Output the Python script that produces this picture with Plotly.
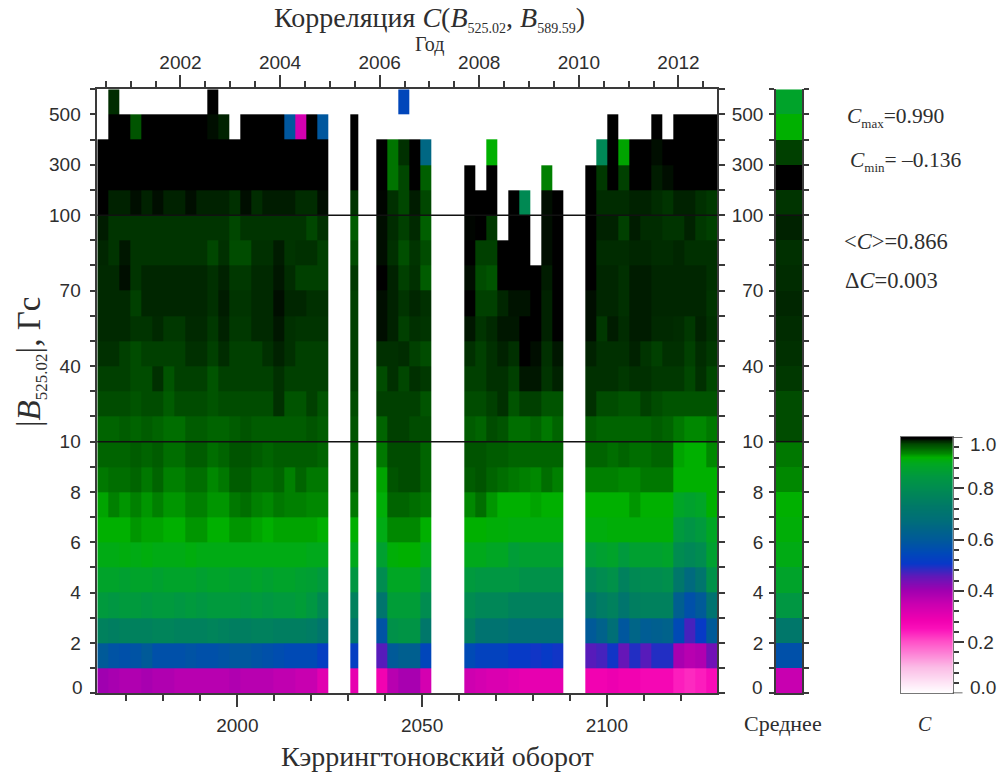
import numpy as np
import plotly.graph_objects as go

# ---------- data ----------
row_labels = ["2", "4", "6", "8", "10", "40", "70", "100", "300", "500"]
row_label_pos = [2, 4, 6, 8, 10, 13, 16, 19, 21, 23]
cr_ticks = [2000, 2050, 2100]
cr_minor = [1970, 1980, 1990, 2010, 2020, 2030, 2040, 2060, 2070, 2080, 2090, 2110, 2120, 2130]
year_ticks = [2002, 2004, 2006, 2008, 2010, 2012]
year_minor = [2000.5, 2001, 2001.5, 2002.5, 2003, 2003.5, 2004.5, 2005, 2005.5, 2006.5, 2007, 2007.5,
              2008.5, 2009, 2009.5, 2010.5, 2011, 2011.5, 2012.5]
N = None
# observed blocks of columns (Carrington rotation of first edge, number of columns, column width)
block_start = [1962.1, 2030.68, 2037.6, 2061.53, 2094.17]
block_ncols = [21, 1, 5, 9, 12]
block_width = [2.977, 2.06, 2.977, 2.977, 2.977]

row_00 = [.40,.39,.38,.38,.39,.38,.38,.37,.37,.37,.37,.37,.38,.37,.37,.37,.36,.36,.35,.35,.31, .30, .28,.37,.39,.39,.33, .34,.33,.32,.32,.31,.30,.30,.30,.30, .28,.28,.29,.28,.28,.27,.27,.27,.24,.23,.24,.26]
row_01 = [.60,.58,.57,.58,.60,.57,.57,.57,.58,.57,.57,.58,.59,.59,.58,.57,.56,.55,.55,.55,.52, .52, .46,.60,.62,.62,.54, .55,.53,.53,.53,.51,.51,.50,.51,.50, .46,.47,.50,.45,.49,.46,.49,.49,.39,.37,.38,.44]
row_02 = [.76,.75,.76,.76,.76,.77,.77,.76,.76,.76,.77,.76,.75,.75,.76,.76,.75,.75,.75,.74,.71, .71, .58,.82,.83,.83,.72, .75,.70,.70,.70,.68,.68,.68,.68,.68, .60,.63,.68,.59,.64,.61,.62,.63,.55,.47,.51,.60]
row_03 = [.85,.84,.85,.85,.84,.85,.85,.84,.85,.84,.85,.85,.85,.84,.85,.84,.85,.85,.86,.84,.79, .76, .71,.86,.86,.86,.80, .80,.78,.78,.78,.76,.76,.76,.76,.76, .71,.74,.76,.71,.75,.76,.76,.76,.62,.57,.60,.70]
row_04 = [.88,.88,.87,.88,.88,.87,.88,.88,.88,.87,.88,.88,.87,.87,.88,.87,.88,.88,.87,.865,.85, .84, .80,.89,.89,.89,.85, .85,.84,.84,.84,.84,.82,.82,.82,.82, .78,.80,.82,.76,.79,.80,.80,.81,.72,.66,.71,.82]
row_05 = [.905,.905,.91,.905,.91,.905,.905,.905,.91,.905,.905,.905,.905,.905,.905,.905,.905,.905,.905,.90,.90, .90, .87,.915,.92,.92,.90, .90,.90,.89,.89,.86,.87,.87,.87,.87, .86,.87,.88,.85,.87,.87,.87,.88,.80,.78,.80,.87]
row_06 = [.92,.92,.92,.93,.925,.925,.92,.92,.93,.93,.92,.92,.93,.93,.925,.92,.925,.925,.925,.925,.92, .92, .905,.935,.935,.935,.92, .92,.92,.915,.915,.91,.91,.91,.91,.91, .91,.91,.915,.915,.915,.915,.915,.915,.85,.83,.85,.89]
row_07 = [.925,.94,.93,.94,.93,.94,.93,.93,.94,.94,.93,.93,.945,.95,.94,.935,.945,.94,.94,.935,.935, .945, .915,.955,.955,.95,.945, .935,.95,.93,.92,.92,.92,.925,.92,.92, .92,.92,.92,.92,.93,.92,.92,.92,.885,.875,.885,.92]
row_08 = [.945,.95,.95,.955,.945,.955,.94,.94,.95,.95,.935,.945,.96,.96,.95,.95,.955,.94,.955,.945,.945, .96, .925,.965,.97,.97,.955, .96,.965,.955,.95,.945,.94,.935,.95,.94, .94,.94,.94,.935,.935,.945,.945,.945,.92,.92,.92,.92]
row_09 = [.955,.955,.955,.96,.955,.96,.95,.95,.96,.96,.95,.955,.965,.965,.96,.955,.96,.96,.96,.96,.955, .96, .945,.97,.97,.97,.955, .965,.965,.96,.96,.955,.955,.955,.955,.955, .955,.955,.95,.955,.95,.95,.955,.955,.925,.92,.92,.935]
row_10 = [.955,.955,.96,.955,.96,.955,.95,.95,.96,.96,.955,.955,.96,.965,.96,.96,.96,.96,.96,.965,.96, .965, .955,.975,.975,.97,.97, .96,.955,.97,.965,.95,.95,.955,.945,.955, .96,.955,.955,.955,.955,.955,.96,.955,.945,.935,.935,.945]
row_11 = [.97,.97,.97,.965,.97,.97,.96,.97,.97,.97,.965,.97,.97,.97,.97,.97,.98,.965,.965,.975,.965, .97, .975,.975,.975,.975,.965, .97,.97,.975,.98,.965,.975,.975,.965,.965, .98,.97,.97,.965,.965,.975,.97,.965,.965,.965,.965,.965]
row_12 = [.975,.975,.975,.97,.97,.98,.965,.975,.975,.975,.965,.975,.975,.975,.975,.975,.98,.975,.975,.975,.975, .975, .97,.98,.972,.98,.977, .975,.975,.98,.98,.975,.988,.988,.978,.985, .98,.98,.98,.977,.98,.98,.977,.977,.977,.972,.98,.972]
row_13 = [.98,.98,.975,.97,.975,.975,.975,.975,.98,.98,.975,.982,.975,.975,.975,.98,.985,.98,.975,.975,.975, .975, .98,.98,.982,.975,.97, .98,.975,.98,.985,.98,.993,.99,.98,.988, .985,.98,.98,.98,.985,.978,.975,.98,.98,.975,.982,.977]
row_14 = [.983,.983,.983,.978,.978,.983,.977,.977,.983,.983,.977,.985,.977,.977,.983,.983,.988,.98,.978,.978,.978, .975, .99,.985,.975,.98,.978, .988,.978,.983,.988,.988,.995,.993,.985,.995, .99,.977,.987,.982,.987,.987,.983,.983,.982,.977,.985,.98]
row_15 = [.983,.983,.983,.975,.984,.984,.984,.984,.984,.984,.98,.987,.978,.978,.983,.983,.99,.984,.984,.98,.98, .975, .99,.985,.978,.984,.98, .993,.975,.975,.984,.989,.989,.995,.985,.996, .99,.984,.984,.98,.987,.987,.984,.984,.984,.984,.984,.978]
row_16 = [.983,.983,.99,.978,.984,.984,.984,.984,.984,.984,.98,.985,.977,.977,.983,.983,.988,.982,.975,.975,.975, .977, .994,.985,.975,.98,.96, .99,.97,.965,.995,.995,.995,.995,.987,.997, .993,.984,.984,.98,.987,.987,.984,.984,.984,.984,.984,.98]
row_17 = [.984,.978,.988,.978,.978,.978,.978,.978,.978,.978,.972,.98,.97,.97,.98,.98,.987,.978,.98,.98,.975, .97, .99,.98,.968,.978,.97, .995,.975,.975,.997,.997,.997,N,.99,.997, .997,.982,.982,.982,.984,.984,.982,.982,.984,.98,.98,.98]
row_18 = [.987,.978,.978,.978,.978,.978,.978,.978,.978,.978,.978,.978,.972,.978,.978,.978,.978,.978,.978,.972,.98, .96, .99,.982,.975,.983,.958, .992,.997,.977,N,.997,.997,N,.99,.997, .997,.985,.985,.975,.987,.982,.982,.978,.978,.985,.977,.975]
row_19 = [.997,.985,.985,.99,.985,.99,.985,.985,.99,.985,.985,.985,.98,.99,.982,.987,.987,.987,.982,.982,.99, .978, .992,.98,.972,.987,.972, .997,.997,.997,N,.997,.79,N,.99,.997, .997,.982,.982,.982,.985,.985,.982,.978,.985,.985,.98,.977]
row_20 = [.997]*21 + [.997, .997,.947,.972,.997,.958, .997,N,.997,N,N,N,N,.94,N, .997,.977,.997,.975,.997,.997,.987,.99,.997,.997,.997,.997]
row_21 = [.997]*21 + [.997, .997,.947,.98,.997,.65, N,N,.92,N,N,N,N,N,N, N,.78,.997,.925,.997,.997,.99,.997,.997,.997,.997,.997]
row_22 = [N,.997,.997,.965,.997,.997,.997,.997,.997,.997,.99,.985,N,.997,.997,.997,.997,.59,.33,.997,.59, .997, N,N,N,N,N, N,N,N,N,N,N,N,N,N, N,N,.997,N,N,N,.997,N,.997,.997,.997,.997]
row_23 = [N,.982,N,N,N,N,N,N,N,N,.997,N,N,N,N,N,N,N,N,N,N, N, N,N,.54,N,N, N,N,N,N,N,N,N,N,N, N,N,N,N,N,N,N,N,N,N,N,N]
mean_by_row = [.35,.57,.72,.84,.88,.905,.915,.92,.935,.945,.97,.97,.977,.98,.982,.984,.982,.98,.985,.978,.997,.975,.92,.88]

all_rows = [row_00,row_01,row_02,row_03,row_04,row_05,row_06,row_07,row_08,row_09,row_10,row_11,
            row_12,row_13,row_14,row_15,row_16,row_17,row_18,row_19,row_20,row_21,row_22,row_23]
for r in all_rows:
    assert len(r) == 48, len(r)

colour_stops = [(0, "#ffffff"), (.1, "#fbbce6"), (.2, "#ff50c8"), (.25, "#fb10ba"), (.285, "#f000b0"),
                (.35, "#c800b0"), (.4, "#a000b0"), (.455, "#6018b8"), (.505, "#0838c8"), (.545, "#0048b8"),
                (.6, "#005a98"), (.675, "#006e78"), (.727, "#007868"), (.8, "#008c50"), (.845, "#009840"),
                (.896, "#00a820"), (.92, "#00b000"), (.928, "#009c00"), (.935, "#008800"), (.945, "#007800"),
                (.955, "#006400"), (.96, "#005c00"), (.97, "#004c00"), (.975, "#004000"), (.978, "#003400"),
                (.982, "#002c00"), (.987, "#001c00"), (.993, "#000000"), (1, "#000000")]

# ---------- assembling columns, with gaps where no data exists ----------
edges, keep = [], []
idx = 0
for s, n, w in zip(block_start, block_ncols, block_width):
    if edges:
        keep.append(None)          # gap between blocks
    for i in range(n):
        edges.append(s + i * w)
        keep.append(idx)
        idx += 1
    edges.append(s + n * w)
z = [[(r[k] if k is not None else None) for k in keep] for r in all_rows]
row_edges = list(range(25))

W, H = 1001, 774
xp = lambda p: p / W
yp = lambda p: 1 - p / H
TXT = "#2e2e2e"
AX = "#3a3a3a"
SANS = "Liberation Sans"
SERIF = "Liberation Serif"

fig = go.Figure()
fig.add_trace(go.Heatmap(z=z, x=edges, y=row_edges, colorscale=colour_stops, zmin=0, zmax=1,
                         showscale=False, hoverinfo="skip", xaxis="x", yaxis="y"))
fig.add_trace(go.Scatter(x=year_ticks, y=[None] * len(year_ticks), mode="markers", showlegend=False,
                         xaxis="x2", yaxis="y", hoverinfo="skip"))
fig.add_trace(go.Heatmap(z=[[v] for v in mean_by_row], x=[0, 1], y=row_edges, colorscale=colour_stops,
                         zmin=0, zmax=1, showscale=False, hoverinfo="skip", xaxis="x3", yaxis="y3"))
grad = np.linspace(0, 1, 257)
fig.add_trace(go.Heatmap(z=[[float(v)] for v in (grad[:-1] + grad[1:]) / 2], x=[0, 1], y=grad.tolist(),
                         colorscale=colour_stops, zmin=0, zmax=1, showscale=False, hoverinfo="skip",
                         xaxis="x4", yaxis="y4"))

tick_font = dict(family=SANS, size=19, color=TXT)
line = dict(showline=True, linecolor=AX, linewidth=1.5, tickcolor=AX, tickwidth=1.5, showgrid=False, zeroline=False)
all_row_ticks = [i for i in range(25) if i not in row_label_pos]

fig.update_layout(
    width=W, height=H, margin=dict(l=0, r=0, t=0, b=0), paper_bgcolor="white", plot_bgcolor="white",
    showlegend=False,
    xaxis=dict(domain=[xp(97.3), xp(717.3)], range=[1962.1, 2129.9], tickmode="array", tickvals=cr_ticks,
               ticks="outside", ticklen=12, tickfont=tick_font, anchor="y", side="bottom", ticklabelstandoff=2,
               minor=dict(tickmode="array", tickvals=cr_minor, ticks="outside", ticklen=6, tickcolor=AX, tickwidth=1.5),
               **line),
    xaxis2=dict(domain=[xp(97.3), xp(717.3)], range=[2000.33, 2012.78], tickmode="array", tickvals=year_ticks,
                ticks="outside", ticklen=13, tickfont=tick_font, anchor="y", overlaying="x", side="top",
                ticklabelstandoff=-2,
                minor=dict(tickmode="array", tickvals=year_minor, ticks="outside", ticklen=7, tickcolor=AX, tickwidth=1.5),
                **line),
    yaxis=dict(domain=[yp(693.3), yp(89.3)], range=[0, 24], tickmode="array", tickvals=row_label_pos, ticktext=row_labels,
               ticks="outside", ticklen=6, tickfont=tick_font, anchor="x", mirror="ticks", ticklabelstandoff=5,
               minor=dict(tickmode="array", tickvals=all_row_ticks, ticks="outside", ticklen=6, tickcolor=AX, tickwidth=1.5),
               **line),
    xaxis3=dict(domain=[xp(776), xp(802.3)], range=[0, 1], showticklabels=False, ticks="", anchor="y3", **line),
    yaxis3=dict(domain=[yp(693.3), yp(89.3)], range=[0, 24], tickmode="array", tickvals=row_label_pos, ticktext=row_labels,
                ticks="outside", ticklen=5, tickfont=tick_font, anchor="x3", mirror="ticks", ticklabelstandoff=2,
                minor=dict(tickmode="array", tickvals=all_row_ticks, ticks="outside", ticklen=5, tickcolor=AX, tickwidth=1.5),
                **line),
    xaxis4=dict(domain=[xp(901), xp(952.7)], range=[0, 1], showticklabels=False, ticks="", anchor="y4",
                showline=True, linecolor="#777777", linewidth=1, mirror=True, showgrid=False, zeroline=False),
    yaxis4=dict(domain=[yp(693.3), yp(437)], range=[0, 1], side="right", tickmode="array",
                tickvals=[.2, .4, .6, .8], ticktext=["0.2", "0.4", "0.6", "0.8"],
                ticks="outside", ticklen=10, tickfont=tick_font, anchor="x4", tickcolor=AX, tickwidth=1.5,
                minor=dict(tickmode="array", tickvals=[round(i * .04, 2) for i in range(26) if i % 5],
                           ticks="outside", ticklen=5, tickcolor=AX, tickwidth=1.5),
                showline=True, linecolor="#777777", linewidth=1, mirror=True, showgrid=False, zeroline=False),
)
# the 0.0 and 1.0 ends of the scale bar carry long ticks
for v in (0, 1):
    fig.add_shape(type="line", xref="x4 domain", yref="y4", x0=1, x1=1.19, y0=v, y1=v, line=dict(color=AX, width=1.5))

# horizontal reference lines at |B| = 10 and 100
for rv in (10, 19):
    fig.add_shape(type="line", xref="x domain", yref="y", x0=0, x1=1, y0=rv, y1=rv, line=dict(color="#111111", width=1.5), layer="above")
    fig.add_shape(type="line", xref="x3 domain", yref="y3", x0=0, x1=1, y0=rv, y1=rv, line=dict(color="#111111", width=1.5), layer="above")

def note(text, x, y, size, family=SERIF, anchor="center", angle=0):
    fig.add_annotation(text=text, xref="paper", yref="paper", x=xp(x), y=yp(y), showarrow=False, xanchor=anchor,
                       yanchor="middle", textangle=angle, font=dict(family=family, size=size, color=TXT))

def sub(t, s):
    return f'<sub><span style="font-size:{s}px">{t}</span></sub>'

note("Корреляция <i>C</i>(<i>B</i>" + sub("525.02", 14) + ", <i>B</i>" + sub("589.59", 14) + ")", 429.5, 19, 28)
note("Год", 429, 45, 20)
note("Кэррингтоновский оборот", 437, 756, 28)
note("|<i>B</i>" + sub("525.02", 17) + "|, Гс", 31, 362, 33, angle=-90)
note("Среднее", 783, 723, 22)
note("<i>C</i>", 925, 724, 20)
note("<i>C</i>" + sub("max", 13) + "=0.990", 845, 118, 21.5, anchor="left")
note("<i>C</i>" + sub("min", 13) + "= –0.136", 848, 161, 21.5, anchor="left")
note("&lt;<i>C</i>&gt;=0.866", 842, 242, 22.5, anchor="left")
note("Δ<i>C</i>=0.003", 843, 280, 22.5, anchor="left")
# labels that the original nudges inside the frame
note("0", 85, 687, 19, family=SANS, anchor="right")
note("0", 765, 687, 19, family=SANS, anchor="right")
note("0.0", 968, 687, 19, family=SANS, anchor="left")
note("1.0", 968, 444, 19, family=SANS, anchor="left")

fig.write_html("out.html", config={"displayModeBar": False},
               post_script="document.body.style.margin='0';document.documentElement.style.overflow='hidden';")
